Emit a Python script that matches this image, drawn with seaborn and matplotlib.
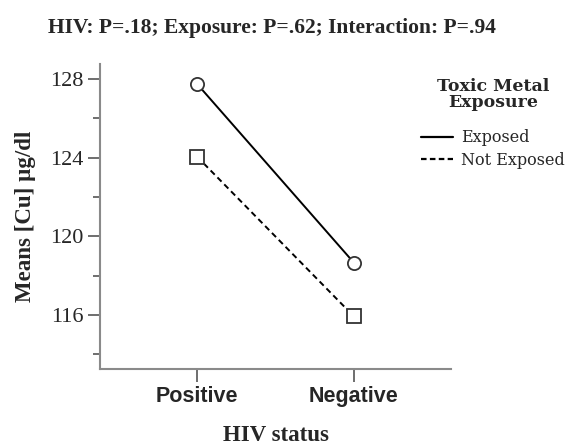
import numpy as np
import pandas as pd
import matplotlib
matplotlib.use("Agg")
import matplotlib.pyplot as plt
from matplotlib.lines import Line2D
from matplotlib.ticker import MultipleLocator
import seaborn as sns

hiv_status = ["Positive", "Negative"]
exposed = [127.75, 118.65]
not_exposed = [124.05, 115.92]
groups = ["Exposed", "Not Exposed"]

df = pd.DataFrame({
    "hiv": hiv_status * 2,
    "cu": exposed + not_exposed,
    "exposure": [groups[0]] * 2 + [groups[1]] * 2,
})

sns.set_style("white")
plt.rcParams["font.family"] = ["Liberation Serif", "DejaVu Serif"]

fig = plt.figure(figsize=(5.69, 4.45), dpi=100)
ax = fig.add_axes([100 / 569, 1 - 369 / 445, 351 / 569, 305 / 445])

sns.lineplot(data=df, x="hiv", y="cu", hue="exposure", style="exposure",
             palette=["black", "black"], markers=["o", "s"],
             dashes=["", (3, 2)], markersize=9.5, markerfacecolor="white",
             markeredgecolor="#333333", markeredgewidth=1.3,
             linewidth=1.4, legend=False, ax=ax)

ax.set_xlim(-0.618, 1.618)
ax.set_ylim(113.25, 128.76)
ax.yaxis.set_major_locator(MultipleLocator(4))
ax.yaxis.set_minor_locator(MultipleLocator(2))

for side in ["top", "right"]:
    ax.spines[side].set_visible(False)
for side in ["left", "bottom"]:
    ax.spines[side].set_color("#8a8a8a")
    ax.spines[side].set_linewidth(1.5)

ax.tick_params(axis="both", which="both", direction="out", color="#555555",
               width=1.2, left=True, bottom=True)
ax.tick_params(axis="y", which="major", length=9, labelsize=16, pad=3)
ax.tick_params(axis="y", which="minor", length=5)
ax.tick_params(axis="x", which="major", length=9, pad=3)
for lbl in ax.get_xticklabels():
    lbl.set_fontfamily("Liberation Sans")
    lbl.set_fontweight("bold")
    lbl.set_fontsize(15.5)

ax.set_xlabel("HIV status", fontsize=16.5, fontweight="bold", labelpad=13)
ax.set_ylabel("Means [Cu] µg/dl", fontsize=16.5, fontweight="bold", labelpad=10)

fig.text(272 / 569, 1 - 28 / 445, "HIV: P=.18; Exposure: P=.62; Interaction: P=.94",
         ha="center", va="center", fontsize=15.5, fontweight="bold")

handles = [Line2D([], [], color="black", lw=1.6, ls="-"),
           Line2D([], [], color="black", lw=1.6, ls=(0, (2.5, 1.5)))]
leg = ax.legend(handles, groups, title="Toxic Metal\nExposure",
                loc="upper left", bbox_to_anchor=(0.875, 1.0), frameon=False,
                handlelength=2.0, handletextpad=0.5, labelspacing=0.35,
                prop={"family": "DejaVu Serif", "size": 11.5})
leg.get_title().set_fontfamily("DejaVu Serif")
leg.get_title().set_fontweight("bold")
leg.get_title().set_fontsize(12.5)
leg.get_title().set_multialignment("center")
leg.get_title().set_linespacing(0.9)
leg._legend_box.sep = 13

fig.savefig("out.png", dpi=100)
